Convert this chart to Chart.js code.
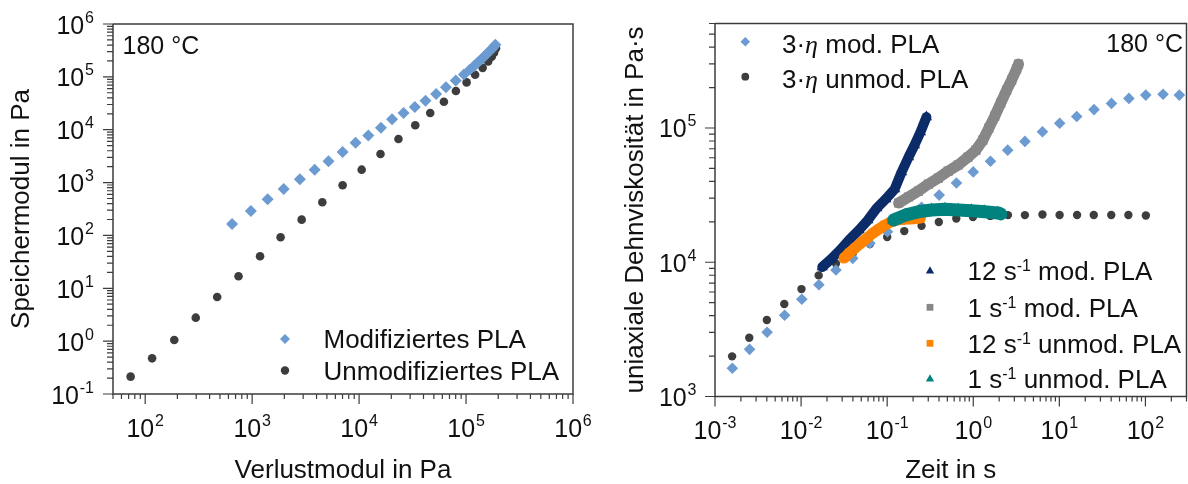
<!DOCTYPE html>
<html>
<head>
<meta charset="utf-8">
<script src="https://cdn.jsdelivr.net/npm/chart.js@4.4.1/dist/chart.umd.min.js"></script>
<style>
  html, body { margin: 0; padding: 0; background: #fff; overflow: hidden; }
  body { width: 1188px; height: 484px; position: relative; }
  #left { position: absolute; left: 0; top: 0; }
  #right { position: absolute; left: 594px; top: 0; }
</style>
</head>
<body>
<canvas id="left" width="594" height="484"></canvas>
<canvas id="right" width="600" height="484"></canvas>
<script>
// ---- left panel: Speichermodul über Verlustmodul (Pa) ----
const lossModified = [649, 973, 1396, 1972, 2793, 3846, 5176, 7015, 9268, 12190, 15996, 20324, 26062, 33189, 41783, 52481, 64863, 80168, 95499, 108890, 118850, 127640, 137090, 145210, 153820, 161810, 170220, 177830, 184080, 187930];
const storageModified = [164, 290, 482, 757, 1153, 1754, 2523, 3793, 5689, 7762, 10940, 15700, 20700, 26900, 35480, 47420, 63390, 85110, 110900, 138000, 160300, 185400, 208400, 234400, 262400, 291700, 322100, 351600, 383700, 405500];
const lossUnmodified = [73.1, 116, 187, 297, 471, 746, 1186, 1845, 2904, 4529, 7015, 10570, 15850, 23340, 33500, 46240, 62090, 80350, 101200, 121600, 142900, 161100, 173800, 182800, 190500];
const storageUnmodified = [0.213, 0.473, 1.05, 2.78, 6.84, 16.9, 40.3, 92.3, 199, 424, 887, 1754, 3475, 6668, 12130, 20700, 33880, 54080, 78520, 109600, 147900, 195000, 241000, 286400, 346700];

// ---- right panel: Dehnviskosität über Zeit (s, Pa·s) ----
const timeEtaMod = [0.00159, 0.00252, 0.00403, 0.00644, 0.0102, 0.0161, 0.0254, 0.0398, 0.063, 0.1007, 0.158, 0.251, 0.402, 0.638, 1.0, 1.585, 2.512, 3.981, 6.368, 10.09, 15.92, 25.29, 40.36, 64.27, 100.9, 160.3, 247.7];
const etaMod3 = [1622, 2244, 3006, 4027, 5297, 6792, 8750, 10690, 13840, 16870, 20890, 25700, 31620, 38900, 47100, 56490, 68390, 79430, 93760, 108400, 121900, 137100, 152400, 166000, 175800, 178200, 175800];
const timeEtaUnmod = [0.00158, 0.0025, 0.004, 0.00638, 0.0101, 0.016, 0.0254, 0.0398, 0.0631, 0.1, 0.158, 0.251, 0.398, 0.635, 0.993, 1.578, 2.529, 3.981, 6.368, 10.07, 16.07, 25.12, 40.09, 63.39, 101.2];
const etaUnmod3 = [1991, 2742, 3715, 4887, 6310, 7980, 9772, 11610, 13650, 15420, 17060, 18660, 19950, 21140, 21730, 22130, 22440, 22440, 22650, 22490, 22490, 22490, 22490, 22490, 22280];
const time12Mod = [0.01762, 0.02239, 0.02844, 0.03606, 0.0471, 0.0597, 0.07586, 0.09638, 0.1222, 0.1472, 0.1774, 0.208, 0.2438, 0.2858];
const visc12Mod = [9204, 10570, 12330, 14620, 17380, 20610, 25350, 29580, 35080, 46990, 60810, 74650, 93330, 120500];
const time1Mod = [0.1358, 0.177, 0.2307, 0.3013, 0.3926, 0.5117, 0.6668, 0.869, 1.074, 1.294, 1.517, 1.778, 2.084, 2.443, 2.793, 3.184, 3.357];
const visc1Mod = [27610, 30620, 33880, 38190, 42360, 47750, 52970, 60670, 68390, 81280, 99770, 122500, 153100, 191400, 227500, 274800, 299200];
const time12Unmod = [0.03155, 0.03606, 0.04227, 0.04955, 0.05821, 0.06823, 0.07998, 0.09376, 0.1099, 0.1288, 0.1552, 0.1866, 0.2188, 0.2432];
const visc12Unmod = [10740, 11700, 12760, 13900, 15140, 16480, 17660, 18920, 19910, 20610, 20890, 20990, 21180, 21330];
const time1Unmod = [0.1189, 0.1622, 0.2307, 0.3281, 0.4688, 0.6668, 0.9484, 1.352, 1.923, 2.084];
const visc1Unmod = [20610, 22440, 23770, 24490, 24770, 24490, 24160, 23770, 23300, 22900];

// tick labels (exponents of 10)
const leftXExp = [2, 3, 4, 5, 6];
const leftYExp = [-1, 0, 1, 2, 3, 4, 5, 6];
const rightXExp = [-3, -2, -1, 0, 1, 2];
const rightYExp = [3, 4, 5];

const FONT = '"Liberation Sans", Arial, sans-serif';
const INK = '#111';
const AXIS = '#3c3c3c';
const blue = '#6b9bd1', dark = '#3d3d3d', navy = '#0b2c68', grey = '#878787', orange = '#ff8200', teal = '#00837f';

const pts = (xs, ys) => xs.map((v, i) => ({ x: v, y: ys[i] }));

function logTicks(s) {
  const out = [];
  for (let e = Math.floor(Math.log10(s.min)); e <= Math.ceil(Math.log10(s.max)); e++) {
    for (let m = 1; m < 10; m++) {
      const v = m * Math.pow(10, e);
      if (v >= s.min * 0.999 && v <= s.max * 1.001) out.push([v, m === 1]);
    }
  }
  return out;
}

// text made of runs: [text, size, rise, italicSerif]
function drawRuns(ctx, parts, x, y, align) {
  const fontOf = p => p[3] ? `italic ${p[1]}px "Liberation Serif", "DejaVu Serif", serif` : `${p[1]}px ${FONT}`;
  let w = 0;
  parts.forEach(p => { ctx.font = fontOf(p); w += ctx.measureText(p[0]).width; });
  let cx = align === 'right' ? x - w : align === 'center' ? x - w / 2 : x;
  ctx.textAlign = 'left';
  ctx.textBaseline = 'alphabetic';
  parts.forEach(p => {
    ctx.font = fontOf(p);
    ctx.fillText(p[0], cx, y - (p[2] || 0));
    cx += ctx.measureText(p[0]).width;
  });
}

function pow10(ctx, e, x, y, align) {
  drawRuns(ctx, [['10', 25, 0], [' ', 3, 0], [String(e), 16, 11]], x, y, align);
}

function marker(ctx, style, x, y, r, color) {
  ctx.fillStyle = color;
  ctx.beginPath();
  if (style === 'circle') {
    ctx.arc(x, y, r, 0, Math.PI * 2);
  } else if (style === 'rectRot') {
    ctx.moveTo(x - r, y); ctx.lineTo(x, y - r); ctx.lineTo(x + r, y); ctx.lineTo(x, y + r);
  } else if (style === 'rect') {
    const s = r * Math.SQRT1_2;
    ctx.rect(x - s, y - s, 2 * s, 2 * s);
  } else if (style === 'triangle') {
    ctx.moveTo(x, y - r);
    ctx.lineTo(x + r * 0.866, y + r / 2);
    ctx.lineTo(x - r * 0.866, y + r / 2);
  }
  ctx.closePath();
  ctx.fill();
}

function axesDeco(spec) {
  return {
    id: 'axesDeco',
    afterDraw(chart) {
      const { ctx, chartArea: a, scales: { x, y } } = chart;
      ctx.save();
      ctx.strokeStyle = AXIS;
      ctx.lineWidth = 1.5;
      ctx.beginPath();
      ctx.moveTo(a.left, a.top); ctx.lineTo(a.right, a.top); ctx.lineTo(a.right, a.bottom);
      ctx.lineTo(a.left, a.bottom); ctx.lineTo(a.left, a.top);
      ctx.stroke();

      ctx.lineWidth = 1.2;
      ctx.beginPath();
      logTicks(x).forEach(([v, major]) => {
        const px = x.getPixelForValue(v);
        ctx.moveTo(px, a.bottom); ctx.lineTo(px, a.bottom + (major ? 10 : 5));
      });
      logTicks(y).forEach(([v, major]) => {
        const py = y.getPixelForValue(v);
        ctx.moveTo(a.left, py); ctx.lineTo(a.left - (major ? 10 : 6), py);
      });
      ctx.stroke();

      ctx.fillStyle = INK;
      spec.xExp.forEach(e => pow10(ctx, e, x.getPixelForValue(Math.pow(10, e)), a.bottom + 42.5, 'center'));
      spec.yExp.forEach(e => pow10(ctx, e, a.left - spec.yGap, y.getPixelForValue(Math.pow(10, e)) + 9.5, 'right'));

      // axis titles
      drawRuns(ctx, [[spec.xTitle, 26, 0]], (a.left + a.right) / 2, 478, 'center');
      ctx.save();
      ctx.translate(spec.yTitleX, (a.top + a.bottom) / 2);
      ctx.rotate(-Math.PI / 2);
      drawRuns(ctx, [[spec.yTitle, 26, 0]], 0, 0, 'center');
      ctx.restore();

      // temperature note
      drawRuns(ctx, [['180 °C', 25, 0]], spec.note[0], spec.note[1], spec.note[2]);

      // legend entries
      spec.legend.forEach(it => {
        marker(ctx, it.style, it.mx, it.my, it.r, it.color);
        ctx.fillStyle = INK;
        drawRuns(ctx, it.text, it.tx, it.ty, 'left');
      });
      ctx.restore();
    }
  };
}

function fitScale(w, h) {
  return s => { if (w != null) s.width = w; if (h != null) s.height = h; };
}

function baseOptions(xr, yr, pad, yw, xh) {
  return {
    responsive: false,
    animation: false,
    events: [],
    layout: { padding: pad },
    plugins: { legend: { display: false }, tooltip: { enabled: false } },
    scales: {
      x: { type: 'logarithmic', min: xr[0], max: xr[1], grid: { display: false }, border: { display: false },
           ticks: { display: false }, afterFit: fitScale(null, xh) },
      y: { type: 'logarithmic', min: yr[0], max: yr[1], grid: { display: false }, border: { display: false },
           ticks: { display: false }, afterFit: fitScale(yw, null) }
    }
  };
}

const scatterSet = (data, style, color, r) => ({
  data, pointStyle: style, pointRadius: r, pointBackgroundColor: color, pointBorderWidth: 0,
  borderColor: color, showLine: false
});
const bandSet = (data, style, color, r, w) => ({
  data, pointStyle: style, pointRadius: r, pointBackgroundColor: color, pointBorderWidth: 0,
  borderColor: color, borderWidth: w, showLine: true, tension: 0,
  borderJoinStyle: 'round', borderCapStyle: 'round'
});

// left chart
new Chart(document.getElementById('left'), {
  type: 'scatter',
  data: {
    datasets: [
      scatterSet(pts(lossModified, storageModified), 'rectRot', blue, 6),
      scatterSet(pts(lossUnmodified, storageUnmodified), 'circle', dark, 4.3)
    ]
  },
  options: baseOptions([50, 1e6], [0.1, 1e6], { top: 24, left: 0, right: 21, bottom: 0 }, 113, 90),
  plugins: [axesDeco({
    xExp: leftXExp, yExp: leftYExp, yGap: 19,
    xTitle: 'Verlustmodul in Pa', yTitle: 'Speichermodul in Pa', yTitleX: 29,
    note: [122.5, 54, 'left'],
    legend: [
      { style: 'rectRot', color: blue, r: 5, mx: 285, my: 339, tx: 323.5, ty: 348, text: [['Modifiziertes PLA', 26, 0]] },
      { style: 'circle', color: dark, r: 4.2, mx: 285, my: 370.5, tx: 323.5, ty: 380, text: [['Unmodifiziertes PLA', 26, 0]] }
    ]
  })]
});

// right chart (canvas starts at page x = 594)
const sup = (head, tail) => [[head, 26, 0], ['-1', 16, 9], [tail, 26, 0]];
const eta = (tail) => [['3·', 26, 0], ['η', 26, 0, true], [tail, 26, 0]];
new Chart(document.getElementById('right'), {
  type: 'scatter',
  data: {
    datasets: [
      bandSet(pts(time1Unmod, visc1Unmod), 'triangle', teal, 7.5, 13),
      bandSet(pts(time12Unmod, visc12Unmod), 'rect', orange, 6, 11),
      bandSet(pts(time12Mod, visc12Mod), 'triangle', navy, 6.5, 10),
      bandSet(pts(time1Mod, visc1Mod), 'rect', grey, 6.5, 11),
      scatterSet(pts(timeEtaMod, etaMod3), 'rectRot', blue, 5.8),
      scatterSet(pts(timeEtaUnmod, etaUnmod3), 'circle', dark, 4.2)
    ]
  },
  options: baseOptions([1e-3, 300], [1e3, 6e5], { top: 23.5, left: 0, right: 3.3, bottom: 0 }, 121, 87.5),
  plugins: [axesDeco({
    xExp: rightXExp, yExp: rightYExp, yGap: 18.5,
    xTitle: 'Zeit in s', yTitle: 'uniaxiale Dehnviskosität in Pa·s', yTitleX: 49,
    note: [589, 52, 'right'],
    legend: [
      { style: 'rectRot', color: blue, r: 4.8, mx: 151.3, my: 41.7, tx: 188, ty: 53, text: eta(' mod. PLA') },
      { style: 'circle', color: dark, r: 3.9, mx: 151.3, my: 76.7, tx: 188, ty: 87.5, text: eta(' unmod. PLA') },
      { style: 'triangle', color: navy, r: 4.8, mx: 336, my: 271, tx: 373.5, ty: 280, text: sup('12 s', ' mod. PLA') },
      { style: 'rect', color: grey, r: 4.8, mx: 336, my: 307.3, tx: 373.5, ty: 316.7, text: sup('1 s', ' mod. PLA') },
      { style: 'rect', color: orange, r: 4.8, mx: 336, my: 343.3, tx: 373.5, ty: 353.3, text: sup('12 s', ' unmod. PLA') },
      { style: 'triangle', color: teal, r: 4.8, mx: 336, my: 379, tx: 373.5, ty: 388.3, text: sup('1 s', ' unmod. PLA') }
    ]
  })]
});
</script>
</body>
</html>
